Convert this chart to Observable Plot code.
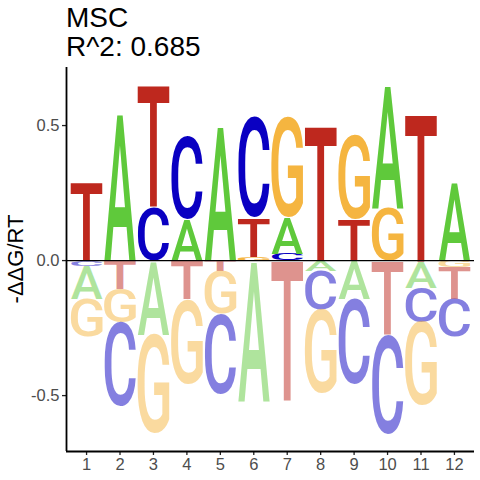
<!DOCTYPE html>
<html>
<head>
<meta charset="utf-8">
<script src="https://cdn.jsdelivr.net/npm/d3@7"></script>
<script src="https://cdn.jsdelivr.net/npm/@observablehq/plot@0.6"></script>
<style>
  html, body { margin: 0; padding: 0; background: #fff; overflow: hidden; }
  #title { height: 59px; padding: 3px 0 0 66px; font-family: "Liberation Sans", Arial, sans-serif; font-size: 28px; line-height: 29px; color: #000; }
  g[aria-label="x-axis tick"], g[aria-label="y-axis tick"] { stroke: #222; stroke-width: 1.3px; }
  g[aria-label="x-axis tick label"], g[aria-label="y-axis tick label"] { font-size: 16.5px; font-family: "Liberation Sans", Arial, sans-serif; fill: #4D4D4D; }
</style>
</head>
<body>
<div id="title"><div>MSC</div><div>R^2: 0.685</div></div>
<div id="chart"></div>
<script>
// Data: -ΔΔG/RT per nucleotide per position
const positions = [1, 2, 3, 4, 5, 6, 7, 8, 9, 10, 11, 12];
const nucleotides = ["A", "C", "G", "T"];
const energyA = [-0.122, 0.545, -0.274, 0.155, 0.500, -0.520, 0.135, -0.037, -0.142, 0.453, -0.100, 0.290];
const energyC = [-0.020, -0.312, 0.197, 0.308, -0.296, 0.370, 0.025, -0.143, -0.315, -0.368, -0.128, -0.138];
const energyG = [-0.138, -0.123, -0.366, -0.312, -0.161, 0.015, 0.370, -0.310, 0.311, 0.195, -0.309, -0.025];
const energyT = [0.290, -0.105, 0.451, -0.144, -0.037, 0.145, -0.520, 0.500, 0.152, -0.274, 0.546, -0.117];
const yTicks = [-0.5, 0, 0.5];
const yTitle = "-ΔΔG/RT";
const colorA = "#5FC93B", colorC = "#0A00C2", colorG = "#F5B540", colorT = "#BE281E";

const energy = {A: energyA, C: energyC, G: energyG, T: energyT};
const colors = {A: colorA, C: colorC, G: colorG, T: colorT};

// Stack letters: smallest magnitude nearest the zero line
const glyphs = [];
positions.forEach((p, i) => {
  const e = nucleotides.map(l => ({letter: l, v: energy[l][i]}));
  let up = 0, down = 0;
  e.filter(d => d.v > 0).sort((a, b) => a.v - b.v).forEach(d => {
    glyphs.push({pos: p, letter: d.letter, lo: up, hi: up + d.v, neg: false}); up += d.v;
  });
  e.filter(d => d.v < 0).sort((a, b) => b.v - a.v).forEach(d => {
    glyphs.push({pos: p, letter: d.letter, lo: down + d.v, hi: down, neg: true}); down += d.v;
  });
});

const xDomain = [0.4, 12.6];
const yDomain = [-0.707, 0.715];
const letterWidth = 0.95;
const glyphFont = "Roboto";
const glyphWeight = 500;
const glyphSize = 100;
const marginLeft = 66;

const chart = Plot.plot({
  width: 480,
  height: 418,
  marginTop: 5,
  marginBottom: 29,
  marginLeft,
  marginRight: 6,
  style: {fontFamily: "'Liberation Sans', Arial, sans-serif", fontSize: "16px", color: "#4D4D4D", background: "#fff"},
  x: {domain: xDomain, ticks: positions, tickFormat: d => String(d), tickSize: 4, tickPadding: 3, label: null},
  y: {domain: yDomain, ticks: yTicks, tickFormat: d => d.toFixed(1), tickSize: 4, tickPadding: 3, label: null},
  marks: [
    Plot.text(glyphs, {
      x: "pos", y: "lo", text: "letter",
      fill: d => colors[d.letter],
      fontSize: glyphSize, fontFamily: glyphFont, fontWeight: glyphWeight,
      textAnchor: "start"
    }),
    Plot.ruleY([0], {stroke: "#000", strokeWidth: 1.1}),
    Plot.ruleX([xDomain[0]], {stroke: "#000", strokeWidth: 1.8}),
    Plot.ruleY([yDomain[0]], {stroke: "#000", strokeWidth: 1.8}),
    Plot.text([yTitle], {text: d => d, frameAnchor: "left", rotate: -90, fontSize: 22, fill: "#000"})
  ]
});

document.getElementById("chart").append(chart);

// Stretch each glyph to its stacked box, using the plot's own scales
const xs = chart.scale("x"), ys = chart.scale("y");
const ctx = document.createElement("canvas").getContext("2d");
ctx.font = `${glyphWeight} ${glyphSize}px ${glyphFont}`;
const metrics = {};
nucleotides.forEach(l => {
  const m = ctx.measureText(l);
  metrics[l] = {
    left: m.actualBoundingBoxLeft, right: m.actualBoundingBoxRight,
    asc: m.actualBoundingBoxAscent, desc: m.actualBoundingBoxDescent
  };
});
const glyphGroup = Array.from(chart.querySelectorAll("g")).find(g => g.getAttribute("font-size") === String(glyphSize));
const texts = glyphGroup ? glyphGroup.querySelectorAll("text") : [];
texts.forEach((t, i) => {
  const g = glyphs[i];
  const m = metrics[g.letter];
  const x1 = xs.apply(g.pos - letterWidth / 2), x2 = xs.apply(g.pos + letterWidth / 2);
  const yt = ys.apply(g.hi), yb = ys.apply(g.lo);
  const sx = (x2 - x1) / (m.right + m.left);
  const sy = (yb - yt) / (m.asc + m.desc);
  t.removeAttribute("x"); t.removeAttribute("y"); t.removeAttribute("dy");
  t.setAttribute("transform", `translate(${x1},${yt}) scale(${sx},${sy}) translate(${m.left},${m.asc})`);
  t.setAttribute("fill-opacity", g.neg ? 0.5 : 1);
  t.setAttribute("text-anchor", "start");
});

// Place the y-axis title left of the axis, centred on the frame
const frameMid = (ys.apply(yDomain[0]) + ys.apply(yDomain[1])) / 2;
Array.from(chart.querySelectorAll("text")).filter(t => t.textContent === yTitle).forEach(t => {
  t.parentNode.removeAttribute("transform");
  t.removeAttribute("x"); t.removeAttribute("y");
  t.setAttribute("text-anchor", "middle");
  t.setAttribute("dy", "0.32em");
  t.setAttribute("transform", `translate(${marginLeft - 50},${frameMid}) rotate(-90)`);
});
</script>
</body>
</html>
